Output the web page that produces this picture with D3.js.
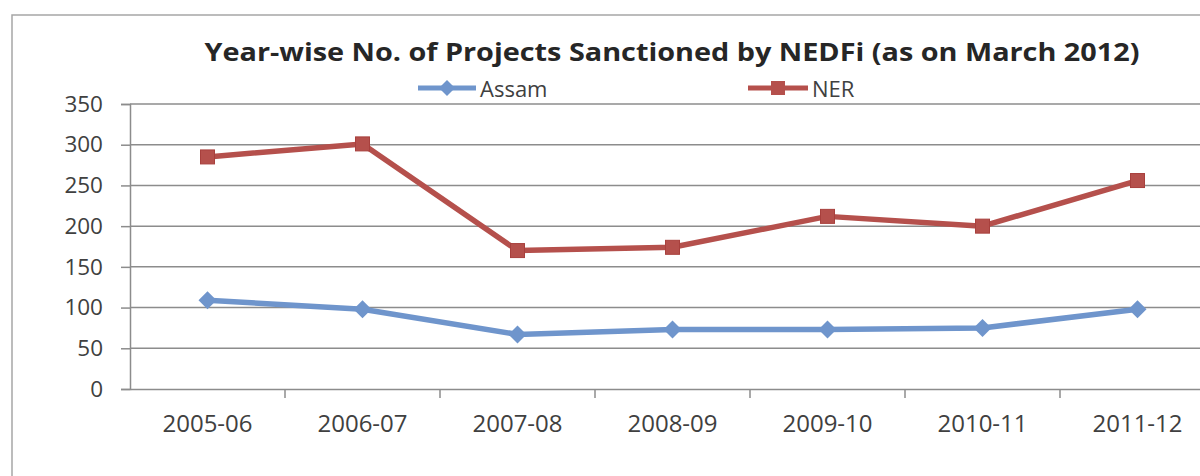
<!DOCTYPE html>
<html><head><meta charset="utf-8">
<script src="https://cdn.jsdelivr.net/npm/d3@7"></script>
<style>
html,body{margin:0;padding:0;background:#fff;}
svg{display:block;}
text{font-family:"Open Sans",sans-serif;}
</style></head>
<body>
<svg id="c" width="1200" height="476"></svg>
<script>
const categories = ["2005-06","2006-07","2007-08","2008-09","2009-10","2010-11","2011-12"];
const assam = [109, 98, 67, 73, 73, 75, 98];
const ner = [285, 301, 170, 174, 212, 200, 256];
const yTicks = [0, 50, 100, 150, 200, 250, 300, 350];
const seriesNames = ["Assam", "NER"];
const titleText = "Year-wise No. of Projects Sanctioned by NEDFi (as on March 2012)";

(function () {
const svg = d3.select("#c");

// outer chart frame
svg.append("rect").attr("x", 12).attr("y", 15).attr("width", 1250).attr("height", 520)
  .attr("fill", "#fff").attr("stroke", "#a6a6a6").attr("stroke-width", 1.5);

const pLeft = 130, pRight = 1215, pTop = 104, pBottom = 389;
const x = d3.scaleBand().domain(categories).range([pLeft, pRight]);
const y = d3.scaleLinear().domain([0, 350]).range([pBottom, pTop]);

// gridlines
svg.append("g").selectAll("line").data(yTicks.filter(d => d > 0)).join("line")
  .attr("x1", pLeft).attr("x2", pRight)
  .attr("y1", d => y(d)).attr("y2", d => y(d))
  .attr("stroke", "#8c8c8c").attr("stroke-width", 1.5);

// y axis
const yAxis = svg.append("g").attr("transform", `translate(${pLeft},0)`)
  .call(d3.axisLeft(y).tickValues(yTicks).tickSize(9).tickPadding(18));
yAxis.select(".domain").attr("stroke", "#8c8c8c").attr("stroke-width", 1.5);
yAxis.selectAll(".tick line").attr("stroke", "#8c8c8c").attr("stroke-width", 1.5);
yAxis.selectAll(".tick text").attr("font-size", 22.5).attr("fill", "#404040")
  .attr("font-family", "Open Sans, sans-serif");

// x axis
const xAxis = svg.append("g").attr("transform", `translate(0,${pBottom})`)
  .call(d3.axisBottom(x).tickSize(0).tickPadding(26));
xAxis.select(".domain").attr("stroke", "#8c8c8c").attr("stroke-width", 1.5);
xAxis.selectAll(".tick text").attr("font-size", 24).attr("fill", "#404040")
  .attr("font-family", "Open Sans, sans-serif");
// category boundary ticks
svg.append("g").selectAll("line").data(categories.slice(1)).join("line")
  .attr("x1", d => x(d)).attr("x2", d => x(d))
  .attr("y1", pBottom).attr("y2", pBottom + 9)
  .attr("stroke", "#8c8c8c").attr("stroke-width", 1.5);

const cx = d => x(d) + x.bandwidth() / 2;
const colors = {Assam: "#6f95cc", NER: "#b5504c"};
const line = d3.line().x((d, i) => cx(categories[i])).y(d => y(d));

// NER
svg.append("path").datum(ner).attr("d", line).attr("fill", "none")
  .attr("stroke", colors.NER).attr("stroke-width", 5.5).attr("stroke-linejoin", "round");
svg.append("g").selectAll("rect").data(ner).join("rect")
  .attr("x", (d, i) => cx(categories[i]) - 7).attr("y", d => y(d) - 7)
  .attr("width", 14).attr("height", 14).attr("fill", colors.NER)
  .attr("stroke", "#a8403d").attr("stroke-width", 1);

// Assam
svg.append("path").datum(assam).attr("d", line).attr("fill", "none")
  .attr("stroke", colors.Assam).attr("stroke-width", 5.5).attr("stroke-linejoin", "round");
const diamond = (cxp, cyp, r) => `M${cxp},${cyp - r}L${cxp + r},${cyp}L${cxp},${cyp + r}L${cxp - r},${cyp}Z`;
svg.append("g").selectAll("path").data(assam).join("path")
  .attr("d", (d, i) => diamond(cx(categories[i]), y(d), 9))
  .attr("fill", colors.Assam);

// title
svg.append("text").attr("x", 672).attr("y", 61).attr("text-anchor", "middle")
  .attr("font-size", 25).attr("font-weight", "bold").attr("fill", "#262626")
  .attr("textLength", 935).attr("lengthAdjust", "spacingAndGlyphs")
  .text(titleText);

// legend
const leg = [
  {name: seriesNames[0], x0: 418, x1: 476, tx: 480},
  {name: seriesNames[1], x0: 748, x1: 808, tx: 812}
];
const ly = 88;
leg.forEach(l => {
  svg.append("line").attr("x1", l.x0).attr("x2", l.x1).attr("y1", ly).attr("y2", ly)
    .attr("stroke", colors[l.name]).attr("stroke-width", 5);
  const mx = (l.x0 + l.x1) / 2;
  if (l.name === "Assam") {
    svg.append("path").attr("d", diamond(mx, ly, 8)).attr("fill", colors.Assam);
  } else {
    svg.append("rect").attr("x", mx - 7).attr("y", ly - 7).attr("width", 14).attr("height", 14)
      .attr("fill", colors.NER);
  }
  svg.append("text").attr("x", l.tx).attr("y", ly + 9).attr("font-size", 22)
    .attr("fill", "#404040").text(l.name);
});
})();
</script>
</body></html>
